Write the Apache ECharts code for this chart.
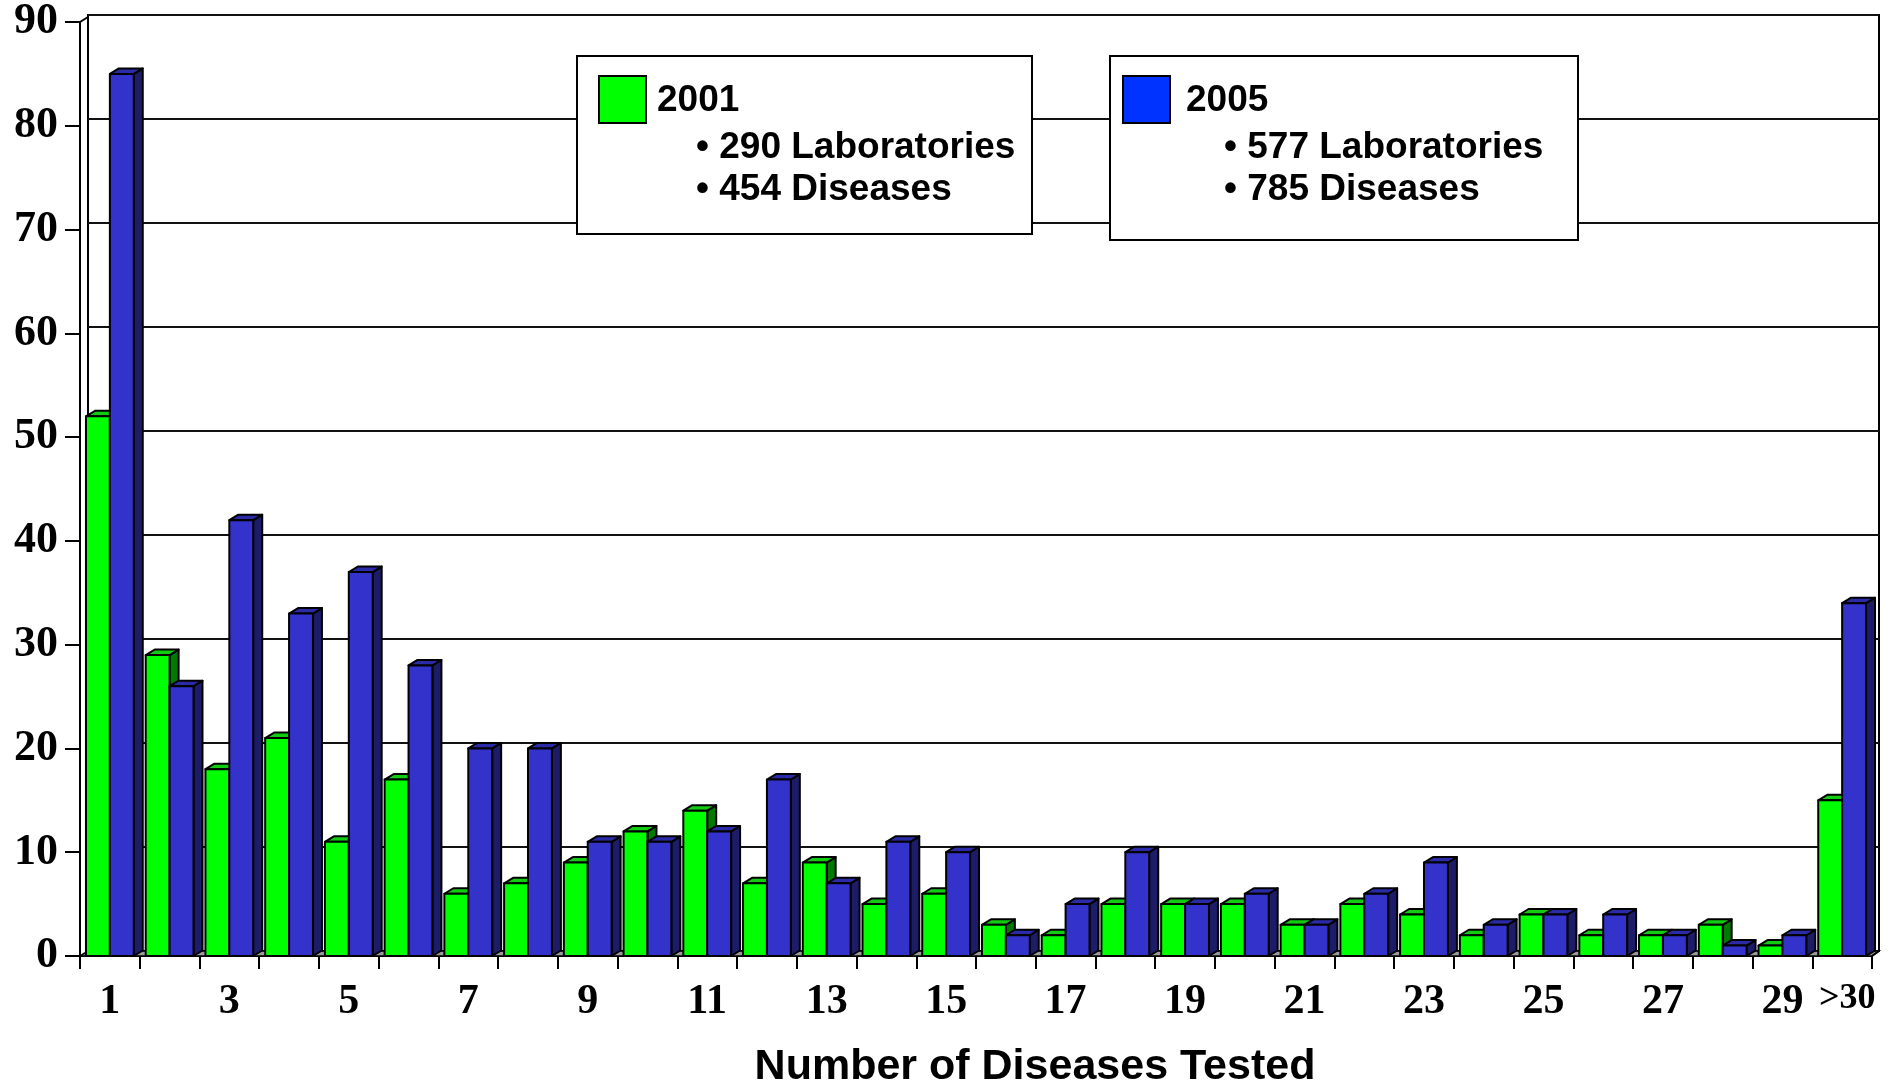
<!DOCTYPE html>
<html>
<head>
<meta charset="utf-8">
<script src="https://cdn.jsdelivr.net/npm/echarts@6/dist/echarts.min.js"></script>
<style>
html,body{margin:0;padding:0;background:#fff;}
#chart{width:1891px;height:1087px;}
</style>
</head>
<body>
<div id="chart"></div>
<script>
// ---- data ----
var categories = ['1','2','3','4','5','6','7','8','9','10','11','12','13','14','15','16','17','18','19','20','21','22','23','24','25','26','27','28','29','>30'];
var labs2001 = [52,29,18,21,11,17,6,7,9,12,14,7,9,5,6,3,2,5,5,5,3,5,4,2,4,2,2,3,1,15];
var labs2005 = [85,26,42,33,37,28,20,20,11,11,12,17,7,11,10,2,5,10,5,6,3,6,9,3,4,4,2,1,2,34];
var yTicks = [0,10,20,30,40,50,60,70,80,90];
var legend2001 = ['2001', '\u2022 290 Laboratories', '\u2022 454 Diseases'];
var legend2005 = ['2005', '\u2022 577 Laboratories', '\u2022 785 Diseases'];
var axisTitle = 'Number of Diseases Tested';

// ---- styling ----
var DX = 9, DY = -5.5;
var SERIF = '"Liberation Serif", "Times New Roman", serif';
var SANS = '"Liberation Sans", Arial, sans-serif';

function toData(arr){ return arr.map(function(v,i){ return [i, v]; }); }

function barRender(front, top, side, leftSide){
  return function(params, api){
    var idx = api.value(0), v = api.value(1);
    var bw = api.size([1,0])[0];
    var w = bw * 0.4;
    var p = api.coord([idx, v]);
    var b = api.coord([idx, 0]);
    var x0 = leftSide ? p[0] - w : p[0];
    var x1 = x0 + w;
    var yT = p[1], yB = b[1];
    var ls = {stroke:'#000', lineWidth:2, lineJoin:'round'};
    return {type:'group', children:[
      {type:'polygon', shape:{points:[[x1,yB],[x1+DX,yB+DY],[x1+DX,yT+DY],[x1,yT]]}, style:Object.assign({fill:side}, ls)},
      {type:'polygon', shape:{points:[[x0,yT],[x0+DX,yT+DY],[x1+DX,yT+DY],[x1,yT]]}, style:Object.assign({fill:top}, ls)},
      {type:'rect', shape:{x:x0, y:yT, width:w, height:yB-yT}, style:Object.assign({fill:front}, ls)}
    ]};
  };
}

function frameRender(params, api){
  var cs = params.coordSys;
  var xl = cs.x, xr = cs.x + cs.width, yt = cs.y, yb = cs.y + cs.height;
  return {type:'group', children:[
    {type:'polygon', shape:{points:[[xl,yb],[xl+8,yb-5],[xr+7,yb-5],[xr,yb]]}, style:{fill:'#9a9a9a', stroke:'#000', lineWidth:1.5}},
    {type:'line', shape:{x1:xl, y1:yt, x2:xl+8, y2:yt-5}, style:{stroke:'#000', lineWidth:2}},
    {type:'line', shape:{x1:xr, y1:yb, x2:xr+7, y2:yb-5}, style:{stroke:'#000', lineWidth:2}}
  ]};
}

var chart = echarts.init(document.getElementById('chart'), null, {renderer:'canvas'});

var legendGraphics = [];
function txt(x, y, s){
  return {type:'text', x:x, y:y, z:101, style:{text:s, font:'bold 37px ' + SANS, fill:'#000', verticalAlign:'middle', textVerticalAlign:'middle'}};
}
function legendBox(x, y, w, h, swatchX, titleX, bulletX, swatchColor, lines){
  legendGraphics.push({type:'rect', left:x, top:y, z:100, shape:{width:w, height:h}, style:{fill:'#fff', stroke:'#000', lineWidth:2}});
  legendGraphics.push({type:'rect', left:swatchX, top:75, z:101, shape:{width:47, height:47}, style:{fill:swatchColor, stroke:'#000', lineWidth:2}});
  legendGraphics.push(txt(titleX, 101, lines[0]));
  legendGraphics.push(txt(bulletX, 148, lines[1]));
  legendGraphics.push(txt(bulletX, 190, lines[2]));
}
legendBox(576, 55, 455, 178, 598, 657, 696, '#00FF00', legend2001);
legendBox(1109, 55, 468, 184, 1122, 1186, 1224, '#0033FF', legend2005);
legendGraphics.push({type:'text', x:1035, y:1067, z:101, style:{text:axisTitle, font:'bold 43px ' + SANS, fill:'#000', align:'center', textAlign:'center', verticalAlign:'middle', textVerticalAlign:'middle'}});

var option = {
  animation:false,
  backgroundColor:'#fff',
  grid:[
    {left:88, right:12, top:15, bottom:136, show:true, borderColor:'#000', borderWidth:2, backgroundColor:'transparent'},
    {left:80, right:19, top:20, bottom:131}
  ],
  xAxis:[
    {gridIndex:0, type:'category', data:categories, show:false},
    {gridIndex:1, type:'category', data:categories,
     axisLine:{show:true, lineStyle:{color:'#000', width:2}},
     axisTick:{show:true, interval:0, length:13, lineStyle:{color:'#000', width:2}},
     axisLabel:{
       interval:function(i){ return i % 2 === 0 || i === categories.length - 1; },
       margin:25, color:'#000', fontFamily:SERIF, fontWeight:'bold', fontSize:42,
       formatter:function(v){ return v === '>30' ? '{s|' + v + '}' : v; },
       rich:{s:{fontFamily:SERIF, fontWeight:'bold', fontSize:36, color:'#000', padding:[0,0,0,10]}}
     },
     splitLine:{show:false}
    }
  ],
  yAxis:[
    {gridIndex:0, type:'value', min:yTicks[0], max:yTicks[yTicks.length-1], interval:10,
     axisLine:{show:false}, axisTick:{show:false}, axisLabel:{show:false},
     splitLine:{show:true, lineStyle:{color:'#111', width:2}}},
    {gridIndex:1, type:'value', min:yTicks[0], max:yTicks[yTicks.length-1], interval:10,
     axisLine:{show:true, lineStyle:{color:'#000', width:2}},
     axisTick:{show:true, length:15, lineStyle:{color:'#000', width:2}},
     axisLabel:{margin:22, color:'#000', fontFamily:SERIF, fontWeight:'bold', fontSize:44},
     splitLine:{show:false}}
  ],
  series:[
    {type:'custom', name:'frame', xAxisIndex:1, yAxisIndex:1, renderItem:frameRender, data:[[0,0]], clip:false, silent:true},
    {type:'custom', name:'2001', xAxisIndex:1, yAxisIndex:1, renderItem:barRender('#00FF00','#11CC11','#007A00', true), data:toData(labs2001), clip:false},
    {type:'custom', name:'2005', xAxisIndex:1, yAxisIndex:1, renderItem:barRender('#3333CC','#2B2BA8','#1C1C68', false), data:toData(labs2005), clip:false}
  ],
  graphic:legendGraphics
};
chart.setOption(option);
</script>
</body>
</html>
